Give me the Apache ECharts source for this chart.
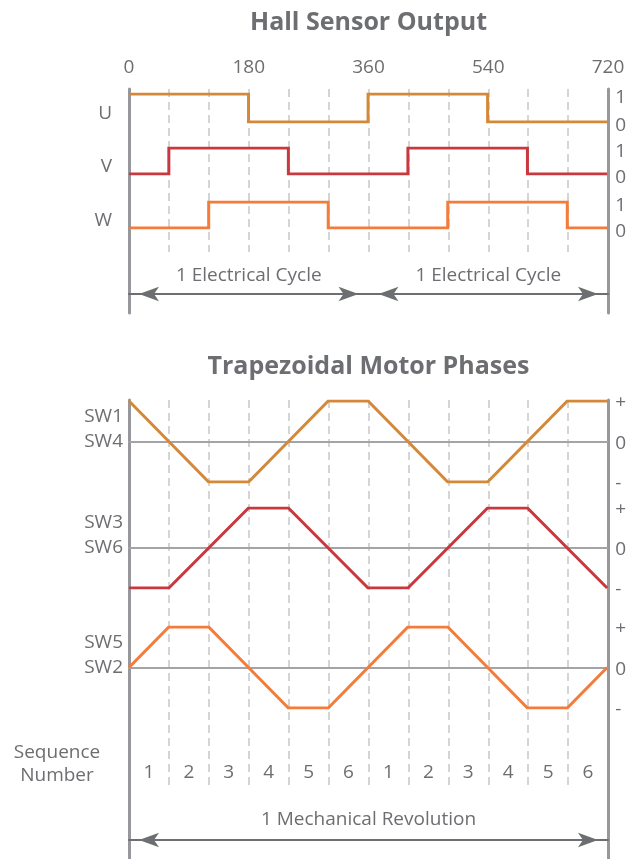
<!DOCTYPE html>
<html><head><meta charset="utf-8">
<script src="https://cdn.jsdelivr.net/npm/echarts@6/dist/echarts.min.js"></script>
<style>html,body{margin:0;padding:0;background:#fff}#c{width:629px;height:859px}</style>
</head><body><div id="c"></div>
<script>
// ---- data ----
const angles = [0, 60, 120, 180, 240, 300, 360, 420, 480, 540, 600, 660, 720];
const hallTickLabels = ['0', '180', '360', '540', '720'];
const hallLevelLabels = ['0', '1'];
const hallU = [1, 1, 1, 0, 0, 0, 1, 1, 1, 0, 0, 0, 0];
const hallV = [0, 1, 1, 1, 0, 0, 0, 1, 1, 1, 0, 0, 0];
const hallW = [0, 0, 1, 1, 1, 0, 0, 0, 1, 1, 1, 0, 0];
const phase1 = [1, 0, -1, -1, 0, 1, 1, 0, -1, -1, 0, 1, 1];
const phase2 = [-1, -1, 0, 1, 1, 0, -1, -1, 0, 1, 1, 0, -1];
const phase3 = [0, 1, 1, 0, -1, -1, 0, 1, 1, 0, -1, -1, 0];
const phaseLevelLabels = { '-1': '-', '0': '0', '1': '+' };
const seqLabels = ['1', '2', '3', '4', '5', '6', '1', '2', '3', '4', '5', '6'];
const hallNames = ['U', 'V', 'W'];
const phaseNames = ['SW1\nSW4', 'SW3\nSW6', 'SW5\nSW2'];
const cycleSpans = [[0, 360], [360, 720]];
const cycleLabel = '1 Electrical Cycle';
const revolutionSpan = [0, 720];
const revolutionLabel = '1 Mechanical Revolution';
const titles = ['Hall Sensor Output', 'Trapezoidal Motor Phases'];
const seqTitle = 'Sequence\nNumber';

// ---- style ----
const FONT = 'Open Sans';
const TXT = '#6d6e71';
const AXIS = '#97989b';
const ZERO = '#a3a4a7';
const DASH = '#d5d5d5';
const COLORS = ['#d4893a', '#c9383e', '#f47b3a'];
const PL = 129, PR = 21, PW = 629 - PL - PR;
const FS = 19;

const grids = [], xAxes = [], yAxes = [], series = [];
function addGrid(g) { grids.push(g); return grids.length - 1; }

function dashGrid(top, height, labels) {
  const gi = addGrid({ left: PL, right: PR, top, height });
  xAxes.push({
    type: 'value', gridIndex: gi, min: 0, max: 720, interval: 60, position: 'top',
    axisLine: { show: false }, axisTick: { show: false },
    axisLabel: labels ? {
      show: true, margin: 12, color: TXT, fontSize: FS, fontFamily: FONT,
      formatter: v => (v % 180 === 0 ? hallTickLabels[v / 180] : '')
    } : { show: false },
    splitLine: { show: true, lineStyle: { color: DASH, width: 2, type: [8, 5] } }
  });
  yAxes.push({ type: 'value', gridIndex: gi, show: false, min: 0, max: 1 });
  return gi;
}

function frameGrid(top, height) {
  const gi = addGrid({ left: PL, right: PR, top, height });
  xAxes.push({ type: 'value', gridIndex: gi, show: false, min: 0, max: 720 });
  ['left', 'right'].forEach(p => yAxes.push({
    type: 'value', gridIndex: gi, position: p, min: 0, max: 1,
    axisLine: { show: true, lineStyle: { color: AXIS, width: 3 } },
    axisTick: { show: false }, axisLabel: { show: false }, splitLine: { show: false }
  }));
}

function waveGrid(top, height, name, values, color, isHall) {
  const gi = addGrid({ left: PL, right: PR, top, height });
  const xi = xAxes.length;
  xAxes.push({
    type: 'value', gridIndex: gi, min: 0, max: 720, interval: 60,
    axisLine: isHall ? { show: false } : { show: true, onZero: true, lineStyle: { color: ZERO, width: 2 } },
    axisTick: { show: false }, axisLabel: { show: false }, splitLine: { show: false }
  });
  const yi = yAxes.length;
  yAxes.push({
    type: 'value', gridIndex: gi, position: 'left', min: isHall ? 0 : -1, max: 1, interval: 1,
    axisLine: { show: false }, axisTick: { show: false }, axisLabel: { show: false }, splitLine: { show: false },
    // an empty extra line shifts the name block so it sits like the reference
    name: isHall ? '\n' + name : name + '\n',
    nameLocation: 'middle', nameRotate: 0, nameGap: isHall ? 17 : 6,
    nameTextStyle: { color: TXT, fontSize: FS, fontFamily: FONT, lineHeight: isHall ? 11 : 25, align: 'right' }
  });
  yAxes.push({
    type: 'value', gridIndex: gi, position: 'right', min: isHall ? 0 : -1, max: 1, interval: 1,
    axisLine: { show: false }, axisTick: { show: false }, splitLine: { show: false },
    axisLabel: {
      show: true, margin: 8, color: TXT, fontSize: FS, fontFamily: FONT, showMinLabel: true, showMaxLabel: true,
      verticalAlign: 'top', lineHeight: isHall ? 7 : 4,
      formatter: v => (isHall ? hallLevelLabels[v] : phaseLevelLabels[String(v)])
    }
  });
  series.push({
    type: 'line', xAxisIndex: xi, yAxisIndex: yi, data: angles.map((a, i) => [a, values[i]]),
    step: isHall ? 'end' : false, showSymbol: false, symbol: 'none', silent: true, z: 5,
    lineStyle: { color, width: 3, join: 'miter' }, itemStyle: { color }
  });
}

function arrowGrid(span, top, label, gap) {
  const left = PL + span[0] / 720 * PW, width = (span[1] - span[0]) / 720 * PW;
  const gi = addGrid({ left, width, top, height: 1 });
  xAxes.push({
    type: 'value', gridIndex: gi, min: span[0], max: span[1], position: 'top',
    axisLine: { show: true, onZero: false, symbol: ['arrow', 'arrow'], symbolSize: [11, 20], symbolOffset: [10, -10],
      lineStyle: { color: TXT, width: 2 } },
    axisTick: { show: false }, axisLabel: { show: false }, splitLine: { show: false },
    name: label, nameLocation: 'middle', nameGap: gap,
    nameTextStyle: { color: TXT, fontSize: FS, fontFamily: FONT }
  });
  yAxes.push({ type: 'value', gridIndex: gi, show: false, min: 0, max: 1 });
}

// Hall section
dashGrid(89, 163, true);
frameGrid(89, 224);
waveGrid(94, 28, hallNames[0], hallU, COLORS[0], true);
waveGrid(148, 26, hallNames[1], hallV, COLORS[1], true);
waveGrid(202, 26, hallNames[2], hallW, COLORS[2], true);
cycleSpans.forEach(s => arrowGrid(s, 294, cycleLabel, 9));

// Phase section
const pg = dashGrid(400, 390, false);
xAxes.push({
  type: 'category', gridIndex: pg, data: seqLabels, position: 'bottom', boundaryGap: true,
  axisLine: { show: false }, axisTick: { show: false }, splitLine: { show: false },
  axisLabel: { show: true, inside: true, interval: 0, margin: 8, color: TXT, fontSize: FS, fontFamily: FONT }
});
frameGrid(400, 459);
waveGrid(401, 81, phaseNames[0], phase1, COLORS[0], false);
waveGrid(508, 80, phaseNames[1], phase2, COLORS[1], false);
waveGrid(627, 81, phaseNames[2], phase3, COLORS[2], false);
arrowGrid(revolutionSpan, 840, revolutionLabel, 11);

const chart = echarts.init(document.getElementById('c'), null, { renderer: 'canvas' });
chart.setOption({
  animation: false,
  backgroundColor: '#ffffff',
  grid: grids, xAxis: xAxes, yAxis: yAxes, series,
  graphic: [
    { type: 'text', x: PL + PW / 2, y: 23, style: { text: titles[0], fill: TXT, fontSize: 25, fontWeight: 'bold', fontFamily: FONT, align: 'center', verticalAlign: 'middle' } },
    { type: 'text', x: PL + PW / 2, y: 367, style: { text: titles[1], fill: TXT, fontSize: 25, fontWeight: 'bold', fontFamily: FONT, align: 'center', verticalAlign: 'middle' } },
    { type: 'text', x: 57, y: 764, style: { text: seqTitle, fill: TXT, fontSize: FS, fontFamily: FONT, lineHeight: 23, align: 'center', verticalAlign: 'middle' } }
  ]
});
</script></body></html>
